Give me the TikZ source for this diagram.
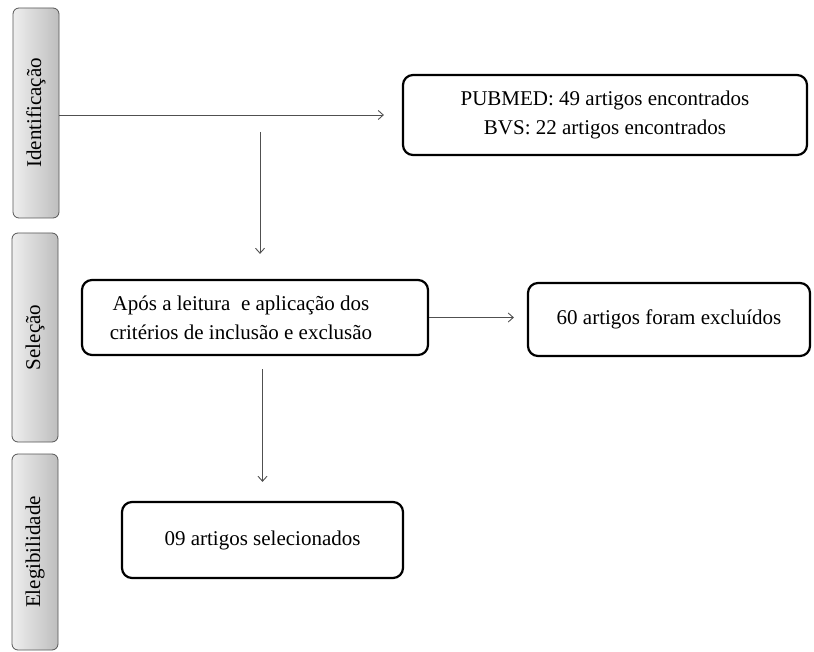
\documentclass[tikz,border=0pt]{standalone}
\usepackage{fontspec}
\setmainfont{Liberation Serif}
\usepackage{tikz}
\usetikzlibrary{arrows.meta, positioning, calc}
\definecolor{tabedge}{RGB}{85,85,85}
\definecolor{tablight}{RGB}{238,238,238}
\definecolor{tabdark}{RGB}{190,190,190}
\definecolor{arrgray}{RGB}{80,80,80}

\tikzset{
  tab/.style={draw=tabedge, line width=0.8pt, rounded corners=6pt,
    left color=tablight, right color=tabdark, minimum width=46pt, inner sep=0pt},
  stagebox/.style={draw=black, line width=2.2pt, rounded corners=10pt,
    align=center, inner sep=0pt, fill=white},
  flow/.style={draw=arrgray, line width=0.9pt, -{Straight Barb[length=5pt,width=9pt]}}
}

\begin{document}
\begin{tikzpicture}[x=1pt, y=-1pt, font=\fontsize{21}{29}\selectfont]
  \useasboundingbox (0,0) rectangle (814,652);
  % ---- phase tabs on the left ----
  \node[tab, minimum height=210pt] (ident)  at (36,113)   {\rotatebox{90}{Identificação}};
  \node[tab, minimum height=209pt] (selec)  at (35,337.5) {\rotatebox{90}{Seleção}};
  \node[tab, minimum height=196pt] (elegib) at (35,552)   {\rotatebox{90}{Elegibilidade}};
  % ---- stage boxes ----
  \node[stagebox, minimum width=404pt, minimum height=80pt] (busca) at (605,115)
    {PUBMED: 49 artigos encontrados\\BVS: 22 artigos encontrados};
  \node[stagebox, minimum width=346pt, minimum height=75pt] (leitura) at (255,317.5)
    {\hspace*{-28pt}Após a leitura~ e aplicação dos\\\hspace*{-28pt}critérios de inclusão e exclusão};
  \node[stagebox, minimum width=282pt, minimum height=73pt] (excl) at (669,319.5)
    {\raisebox{4pt}{60 artigos foram excluídos}};
  \node[stagebox, minimum width=281pt, minimum height=76pt] (selecionados) at (262.5,540)
    {09 artigos selecionados};
  % ---- connectors ----
  \draw[flow, shorten >=18pt] (ident.east |- busca.west) -- (busca.west);
  \coordinate (split) at (260,115);   % branch point on the top line
  \draw[flow, shorten <=17pt, shorten >=25pt] (split) -- (split |- leitura.north);
  \draw[flow, shorten >=13pt] (leitura.east) -- (leitura.east -| excl.west);
  \draw[flow, shorten <=13pt, shorten >=19pt] (selecionados.north |- leitura.south) -- (selecionados.north);
\end{tikzpicture}
\end{document}
